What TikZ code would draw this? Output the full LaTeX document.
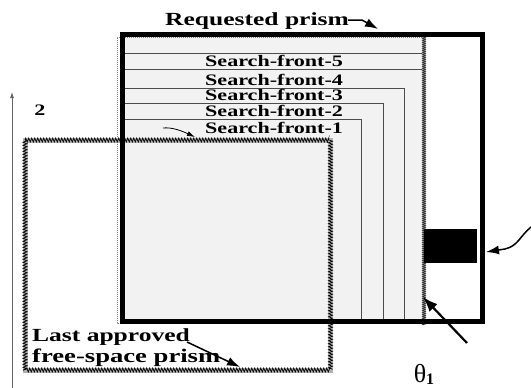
\documentclass[tikz,border=0pt]{standalone}
\usepackage{fontspec}
\newfontfamily\lblfont[FakeStretch=1.38]{Liberation Serif}
\newfontfamily\grkfont{Liberation Serif}
\usetikzlibrary{arrows.meta,%
                decorations.pathmorphing}

\begin{document}
\begin{tikzpicture}[>={Latex[length=12pt,width=8pt]},x=1pt,y=-1pt]
  \tikzset{front/.style={draw=black!70,line width=0.7pt}}
  \tikzset{frontlabel/.style={anchor=base west,inner sep=0pt,
           font=\lblfont\bfseries\fontsize{16}{16}\selectfont}}
  \tikzset{biglabel/.style={anchor=base west,inner sep=0pt,
           font=\lblfont\bfseries\fontsize{18.5}{18.5}\selectfont}}
  \tikzset{approved/.style={draw=black!30,line width=5pt,
           postaction={draw=black,line width=0.7pt,decorate,
                       decoration={zigzag,amplitude=2pt,segment length=3pt}}}}
  \tikzset{searchedge/.style={draw=black!35,line width=4pt,
           postaction={draw=black!80,line width=0.5pt,decorate,
                       decoration={zigzag,amplitude=1.6pt,segment length=2pt}}}}
  \tikzset{pointer/.style={-{Latex[length=13pt,width=9pt]},line width=1.5pt}}
  \useasboundingbox (0,0) rectangle (531,388);

  % searched area
  \fill[black!5] (122,34) rectangle (424,321);
  \draw[front] (125,53) -- (424,53);
  \draw[front] (125,69) -- (424,69);
  \draw[front] (125,88) -- (404,88) -- (404,321);
  \draw[front] (125,103) -- (383,103) -- (383,321);
  \draw[front] (125,119) -- (361,119) -- (361,321);
  \draw[black!50,densely dotted,line width=1pt] (424,37) -- (117,37) -- (117,323) -- (424,323);

  % last approved prism
  \draw[approved] (25,140) rectangle (330.5,370);

  \draw[searchedge] (424,35) -- (424,325);

  % requested prism
  \draw[line width=5pt] (122,34) rectangle (482,321);
  \fill[black] (424,229) rectangle (477,263);
  %\draw[black!50,line width=1pt] (478,229) -- (478,263);

  \draw[-{Latex[length=6pt,width=4pt]},black!60,line width=0.8pt] (12,388) -- (12,92);

  \node[biglabel] (req) at (165,26) {Requested prism};
  \node[frontlabel] (sf5) at (205,66) {Search-front-5};
  \node[frontlabel] (sf4) at (205,85) {Search-front-4};
  \node[frontlabel] (sf3) at (205,100.5) {Search-front-3};
  \node[frontlabel] (sf2) at (205,116) {Search-front-2};
  \node[frontlabel] (sf1) at (205,133) {Search-front-1};
  \node[biglabel] (last) at (32,341) {Last approved};
  \node[biglabel,font=\lblfont\bfseries\fontsize{19.3}{19.3}\selectfont] (free) at (32,362) {free-space prism};
  \node[font=\lblfont\bfseries\fontsize{16}{16}\selectfont] (two) at (40,110) {2};
  \node[inner sep=0pt] (theta) at (424,374)
       {\grkfont\fontsize{26}{26}\selectfont θ\raisebox{-2pt}{\fontsize{16}{16}\selectfont\bfseries 1}};

  \coordinate (reqtip) at (378,29);
  \coordinate (sf1tip) at (195,137);
  \coordinate (lasttip) at (240,367);
  \coordinate (thetatail) at (467,343);
  \coordinate (thetatip) at (423,297);
  \coordinate (boxtail) at (531,227);
  \coordinate (boxtip) at (486,252);

  \draw[pointer] (348,20) -- (362,20) -- (reqtip);
  \draw[-{Latex[length=8pt,width=5pt]},line width=0.8pt] (163,128) .. controls (172,127) and (182,131) .. (sf1tip);
  \draw[pointer] (187,342) -- (lasttip);
  \draw[-{Latex[length=15pt,width=11pt]},line width=2.2pt] (thetatail) -- (thetatip);
  \draw[pointer] (boxtail) .. controls (520,236) and (518,246) .. (505,249) -- (boxtip);

\end{tikzpicture}
\end{document}
